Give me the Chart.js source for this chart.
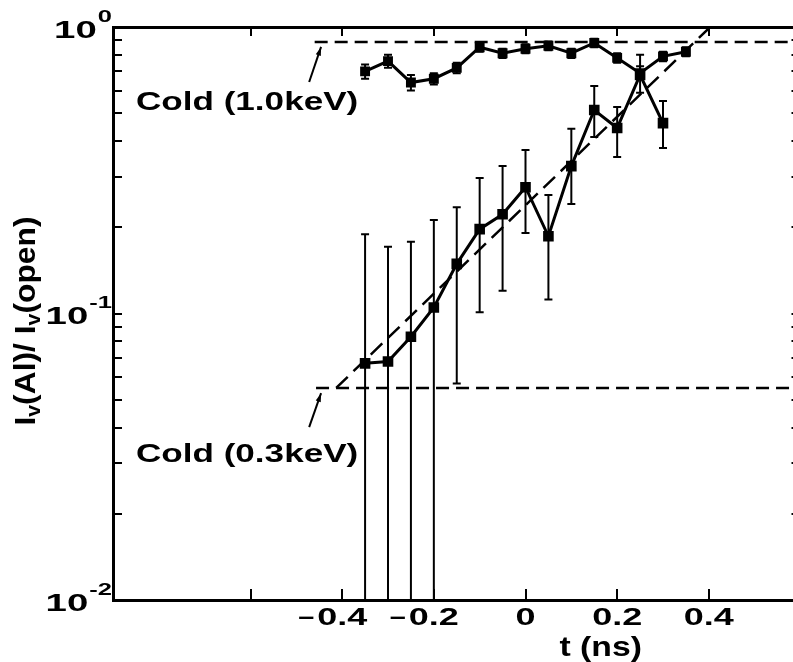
<!DOCTYPE html>
<html>
<head>
<meta charset="utf-8">
<script src="https://cdn.jsdelivr.net/npm/chart.js@4.4.1/dist/chart.umd.min.js"></script>
<style>
  html, body { margin: 0; padding: 0; background: #fff; overflow: hidden; }
</style>
</head>
<body>
<!-- a figura original está cortada à direita: o canvas passa um pouco da janela -->
<canvas id="grafico_transmissao" width="808" height="662"></canvas>
<script>
// Série superior (marcadores + linha)
var tempos_sup = [-0.35, -0.30, -0.25, -0.20, -0.15, -0.10, -0.05, 0.00, 0.05, 0.10, 0.15, 0.20, 0.25, 0.30, 0.35];
var valores_sup = [0.70, 0.76, 0.64, 0.66, 0.72, 0.85, 0.81, 0.84, 0.86, 0.81, 0.88, 0.78, 0.69, 0.79, 0.82];
var erro_inf_sup = [0.66, 0.72, 0.60, 0.63, 0.69, 0.82, 0.78, 0.81, 0.83, 0.78, 0.85, 0.75, 0.66, 0.76, 0.79];
var erro_sup_sup = [0.74, 0.80, 0.68, 0.69, 0.75, 0.88, 0.84, 0.87, 0.89, 0.84, 0.91, 0.81, 0.73, 0.82, 0.85];

// Série inferior (com barras de erro grandes)
var tempos_inf = [-0.35, -0.30, -0.25, -0.20, -0.15, -0.10, -0.05, 0.00, 0.05, 0.10, 0.15, 0.20, 0.25, 0.30];
var valores_inf = [0.067, 0.068, 0.083, 0.105, 0.149, 0.197, 0.222, 0.276, 0.186, 0.327, 0.513, 0.444, 0.68, 0.462];
var erro_inf_inf = [0.005, 0.005, 0.005, 0.005, 0.057, 0.101, 0.120, 0.191, 0.112, 0.241, 0.413, 0.352, 0.59, 0.378];
var erro_sup_inf = [0.189, 0.171, 0.178, 0.212, 0.235, 0.297, 0.327, 0.372, 0.259, 0.441, 0.622, 0.526, 0.80, 0.552];

// Níveis "Cold" e reta tracejada
var frio_1keV = 0.886;
var frio_03keV = 0.055;
var inicio_frio = [-0.46, -0.457];
var reta_t = [-0.413, 0.403];
var reta_v = [0.055, 1.0];

// Eixos
var ticks_x = [-0.6, -0.4, -0.2, 0, 0.2, 0.4];
var rotulos_x = [-0.4, -0.2, 0, 0.2, 0.4];
var ticks_y = [0.01, 0.02, 0.03, 0.04, 0.05, 0.06, 0.07, 0.08, 0.09, 0.1, 0.2, 0.3, 0.4, 0.5, 0.6, 0.7, 0.8, 0.9, 1];
var rotulos_y = [1, 0.1, 0.01];

var FONTE = '"Liberation Sans", Arial, Helvetica, sans-serif';

function pontos(xs, ys) {
    return xs.map(function (x, i) { return {x: x, y: ys[i]}; });
}

// escreve texto "esticado" na horizontal, como no original
function textoLargo(ctx, texto, x, y, tamanho, escala, alinhar) {
    ctx.save();
    ctx.font = 'bold ' + tamanho + 'px ' + FONTE;
    ctx.textBaseline = 'middle';
    ctx.textAlign = 'left';
    var w = ctx.measureText(texto).width * escala;
    var x0 = alinhar === 'center' ? x - w / 2 : (alinhar === 'right' ? x - w : x);
    ctx.translate(x0, y);
    ctx.scale(escala, 1);
    ctx.fillStyle = '#000';
    ctx.fillText(texto, 0, 0);
    ctx.restore();
    return w;
}

var barrasErro = {
    id: 'barrasErro',
    afterDatasetsDraw: function (chart) {
        var ctx = chart.ctx, xs = chart.scales.x, ys = chart.scales.y, a = chart.chartArea;
        var grupos = [
            [tempos_sup, erro_inf_sup, erro_sup_sup],
            [tempos_inf, erro_inf_inf, erro_sup_inf]
        ];
        ctx.save();
        ctx.beginPath();
        ctx.rect(a.left, a.top, a.right - a.left, a.bottom - a.top);
        ctx.clip();
        ctx.strokeStyle = '#000';
        ctx.lineWidth = 2;
        grupos.forEach(function (g) {
            g[0].forEach(function (t, i) {
                var px = xs.getPixelForValue(t);
                var y1 = ys.getPixelForValue(g[1][i]);
                var y2 = ys.getPixelForValue(g[2][i]);
                ctx.beginPath();
                ctx.moveTo(px, y1); ctx.lineTo(px, y2);
                ctx.moveTo(px - 4, y2); ctx.lineTo(px + 4, y2);
                if (y1 < a.bottom) { ctx.moveTo(px - 4, y1); ctx.lineTo(px + 4, y1); }
                ctx.stroke();
            });
        });
        ctx.restore();
    }
};

var textos = {
    id: 'textos',
    afterDraw: function (chart) {
        var ctx = chart.ctx, xs = chart.scales.x, ys = chart.scales.y;

        // rótulos do eixo x (o sinal fica pendurado à esquerda)
        rotulos_x.forEach(function (v) {
            var px = xs.getPixelForValue(v);
            var txt = String(Math.abs(v));
            var w = textoLargo(ctx, txt, px, 618, 24, 1.5, 'center');
            if (v < 0) textoLargo(ctx, '\u2013', px - w / 2 - 3, 617, 24, 1.2, 'right');
        });

        // rótulos do eixo y: 10^n
        rotulos_y.forEach(function (v) {
            var py = ys.getPixelForValue(v);
            var expo = String(Math.round(Math.log10(v)));
            var we = textoLargo(ctx, expo, 112, py - 10, 17, 1.5, 'right');
            textoLargo(ctx, '10', 112 - we - 1, py + 4, 24, 1.6, 'right');
        });

        // título do eixo x
        textoLargo(ctx, 't (ns)', xs.getPixelForValue(0.164), 649, 27, 1.25, 'center');

        // título do eixo y, girado, com subscritos
        var partes = [['I', 0], ['v', 1], ['(Al)/ ', 0], ['I', 0], ['v', 1], ['(open)', 0]];
        ctx.save();
        ctx.translate(27, 321);
        ctx.rotate(-Math.PI / 2);
        ctx.scale(1.06, 1);
        ctx.fillStyle = '#000';
        ctx.textBaseline = 'middle';
        var total = 0;
        partes.forEach(function (p) {
            ctx.font = 'bold ' + (p[1] ? 20 : 30) + 'px ' + FONTE;
            total += ctx.measureText(p[0]).width;
        });
        var cx = -total / 2;
        partes.forEach(function (p) {
            ctx.font = 'bold ' + (p[1] ? 20 : 30) + 'px ' + FONTE;
            ctx.fillText(p[0], cx, p[1] ? 7 : 0);
            cx += ctx.measureText(p[0]).width;
        });
        ctx.restore();

        // anotações "Cold" com setas
        var notas = [
            {texto: 'Cold (1.0keV)', t: -0.85, v: 0.543, de: [-0.472, 0.643], para: [-0.446, 0.852]},
            {texto: 'Cold (0.3keV)', t: -0.85, v: 0.0321, de: [-0.472, 0.0401], para: [-0.446, 0.0527]}
        ];
        notas.forEach(function (n) {
            textoLargo(ctx, n.texto, xs.getPixelForValue(n.t), ys.getPixelForValue(n.v), 26, 1.35, 'left');
            var x1 = xs.getPixelForValue(n.de[0]), y1 = ys.getPixelForValue(n.de[1]);
            var x2 = xs.getPixelForValue(n.para[0]), y2 = ys.getPixelForValue(n.para[1]);
            var ang = Math.atan2(y2 - y1, x2 - x1);
            ctx.save();
            ctx.strokeStyle = '#000';
            ctx.fillStyle = '#000';
            ctx.lineWidth = 2;
            ctx.beginPath(); ctx.moveTo(x1, y1); ctx.lineTo(x2, y2); ctx.stroke();
            ctx.beginPath();
            ctx.moveTo(x2, y2);
            ctx.lineTo(x2 - 9 * Math.cos(ang - 0.3), y2 - 9 * Math.sin(ang - 0.3));
            ctx.lineTo(x2 - 9 * Math.cos(ang + 0.3), y2 - 9 * Math.sin(ang + 0.3));
            ctx.closePath(); ctx.fill();
            ctx.restore();
        });
    }
};

function eixo(posicao, tipo, min, max, ticks, comprimento) {
    return {
        type: tipo,
        position: posicao,
        min: min,
        max: max,
        afterBuildTicks: function (s) { s.ticks = ticks.map(function (v) { return {value: v}; }); },
        afterFit: function (s) {
            if (s.isHorizontal()) s.height = 0; else s.width = 0;
        },
        ticks: {display: false},
        grid: {drawOnChartArea: false, tickLength: -comprimento, color: '#000', lineWidth: 2},
        border: {display: true, color: '#000', width: 3}
    };
}

var escX = eixo('bottom', 'linear', -0.9, 0.6, ticks_x, 11);
var escXTopo = eixo('top', 'linear', -0.9, 0.6, ticks_x, 9);
var escY = eixo('left', 'logarithmic', 0.01, 1, ticks_y, 9);
var escYDir = eixo('right', 'logarithmic', 0.01, 1, ticks_y, 9);

var tracejado = {borderColor: '#000', borderWidth: 2.5, pointRadius: 0, fill: false};

var ctx_grafico = document.getElementById('grafico_transmissao').getContext('2d');

var grafico = new Chart(ctx_grafico, {
    type: 'line',
    data: {
        datasets: [
            Object.assign({data: pontos([inicio_frio[0], 0.6], [frio_1keV, frio_1keV]), borderDash: [13, 7]}, tracejado),
            Object.assign({data: pontos([inicio_frio[1], 0.6], [frio_03keV, frio_03keV]), borderDash: [13, 7]}, tracejado),
            Object.assign({data: pontos(reta_t, reta_v), borderDash: [16, 8]}, tracejado),
            {
                data: pontos(tempos_sup, valores_sup),
                borderColor: '#000', borderWidth: 3,
                pointStyle: 'rect', pointRadius: 7,
                pointBackgroundColor: '#000', pointBorderWidth: 0,
                tension: 0
            },
            {
                data: pontos(tempos_inf, valores_inf),
                borderColor: '#000', borderWidth: 3,
                pointStyle: 'rect', pointRadius: 7.5,
                pointBackgroundColor: '#000', pointBorderWidth: 0,
                tension: 0
            }
        ]
    },
    options: {
        responsive: false,
        animation: false,
        devicePixelRatio: 1,
        layout: {padding: {left: 113, top: 27, right: 0, bottom: 62}},
        scales: {
            x: escX,
            xTopo: escXTopo,
            y: escY,
            yDir: escYDir
        },
        plugins: {
            legend: {display: false},
            tooltip: {enabled: false}
        }
    },
    plugins: [barrasErro, textos]
});
</script>
</body>
</html>
